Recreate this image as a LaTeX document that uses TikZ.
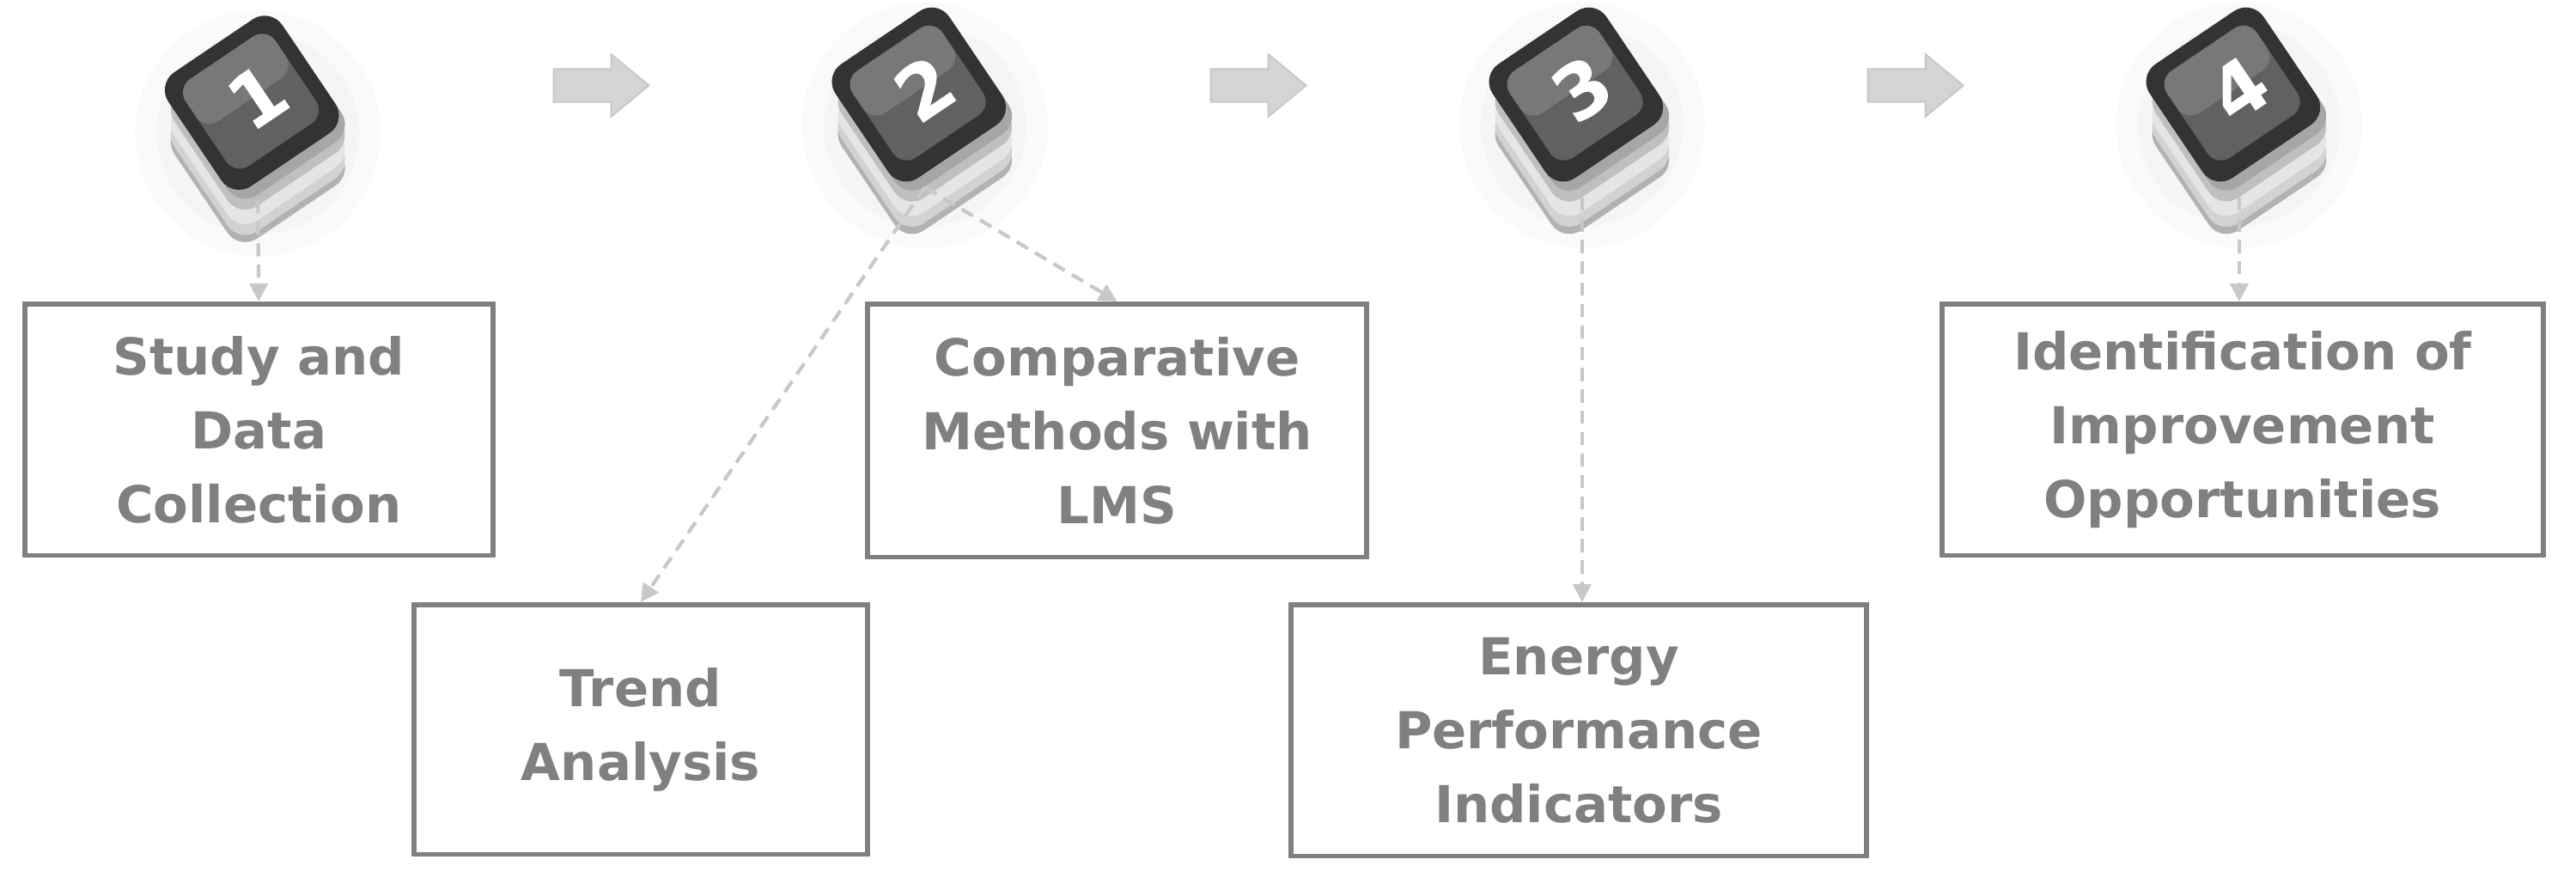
\documentclass[tikz,border=0pt]{standalone}
\usepackage{fontspec}
\setmainfont{DejaVu Sans}
\usetikzlibrary{arrows.meta}
\definecolor{bx}{HTML}{808080}
\definecolor{dl}{HTML}{C8C8C8}
\definecolor{ar}{HTML}{D4D4D4}
\begin{document}
\begin{tikzpicture}[x=1pt,y=-1pt,
 box/.style={draw=bx,line width=3pt,text=bx,font=\fontsize{31}{45}\selectfont\bfseries,align=center,inner sep=0pt},
 con/.style={draw=dl,line width=2.2pt,dash pattern=on 8pt off 5pt,-{Triangle[length=11pt,width=11pt]}},
 blk/.style={fill=ar,draw=ar!85!gray,line width=1pt}]
\useasboundingbox (0,0) rectangle (1568,537.5);
\newcommand{\keycap}[3]{%
 \begin{scope}[shift={(#1,#2)},scale=1.1]
  \fill[black!2] (0,12) circle (68pt);
  \fill[black!4] (0,12) circle (56pt);
  \foreach \d/\c in {30/gray!60,26/gray!35,20/white!80!gray,12/gray!50,6/gray!70}{
   \fill[\c,rotate around={34:(0,\d-6)},rounded corners=13pt] (-38,\d-44) rectangle (38,\d+32);
  }
  \fill[black!80,rotate=34,rounded corners=13pt] (-38,-44) rectangle (38,32);
  \fill[black!62,rotate=34,rounded corners=10pt] (-30,-36) rectangle (30,22);
  \fill[white,opacity=0.15,rotate=34,rounded corners=10pt] (-30,-36) rectangle (30,-8);
  \node[rotate=34,text=white,font=\fontsize{46}{46}\selectfont\bfseries] (k#3) at (0,-8) {#3};
 \end{scope}}
\keycap{157}{68}{1}
\keycap{563}{63}{2}
\keycap{963}{63}{3}
\keycap{1363}{63}{4}
\coordinate (s1) at (157,122);
\coordinate (s2) at (563,114);
\coordinate (s3) at (963,120);
\coordinate (s4) at (1363,120);
\foreach \x [count=\i] in {337,737,1137}{
 \draw[blk] (\x,42) -- (\x+35,42) -- (\x+35,33) -- (\x+58,52) -- (\x+35,71) -- (\x+35,62) -- (\x,62) -- cycle;
}
\node[box,minimum width=285pt,minimum height=153pt] (b1) at (157.5,261.5) {Study and\\Data\\Collection};
\node[box,minimum width=276pt,minimum height=152pt] (b2) at (390,444) {Trend\\Analysis};
\node[box,minimum width=304pt,minimum height=154pt] (b3) at (680,262) {Comparative\\Methods with\\LMS};
\node[box,minimum width=350pt,minimum height=153pt] (b4) at (961,444.5) {Energy\\Performance\\Indicators};
\node[box,minimum width=366pt,minimum height=153pt] (b5) at (1365,261.5) {Identification of\\Improvement\\Opportunities};
\draw[con] (s1) -- (b1.north);
\draw[con] (s2) -- (b3.north);
\draw[con] (s2) -- (b2.north);
\draw[con] (s3) -- (b4.north -| s3);
\draw[con] (s4) -- (b5.north -| s4);
\end{tikzpicture}
\end{document}
